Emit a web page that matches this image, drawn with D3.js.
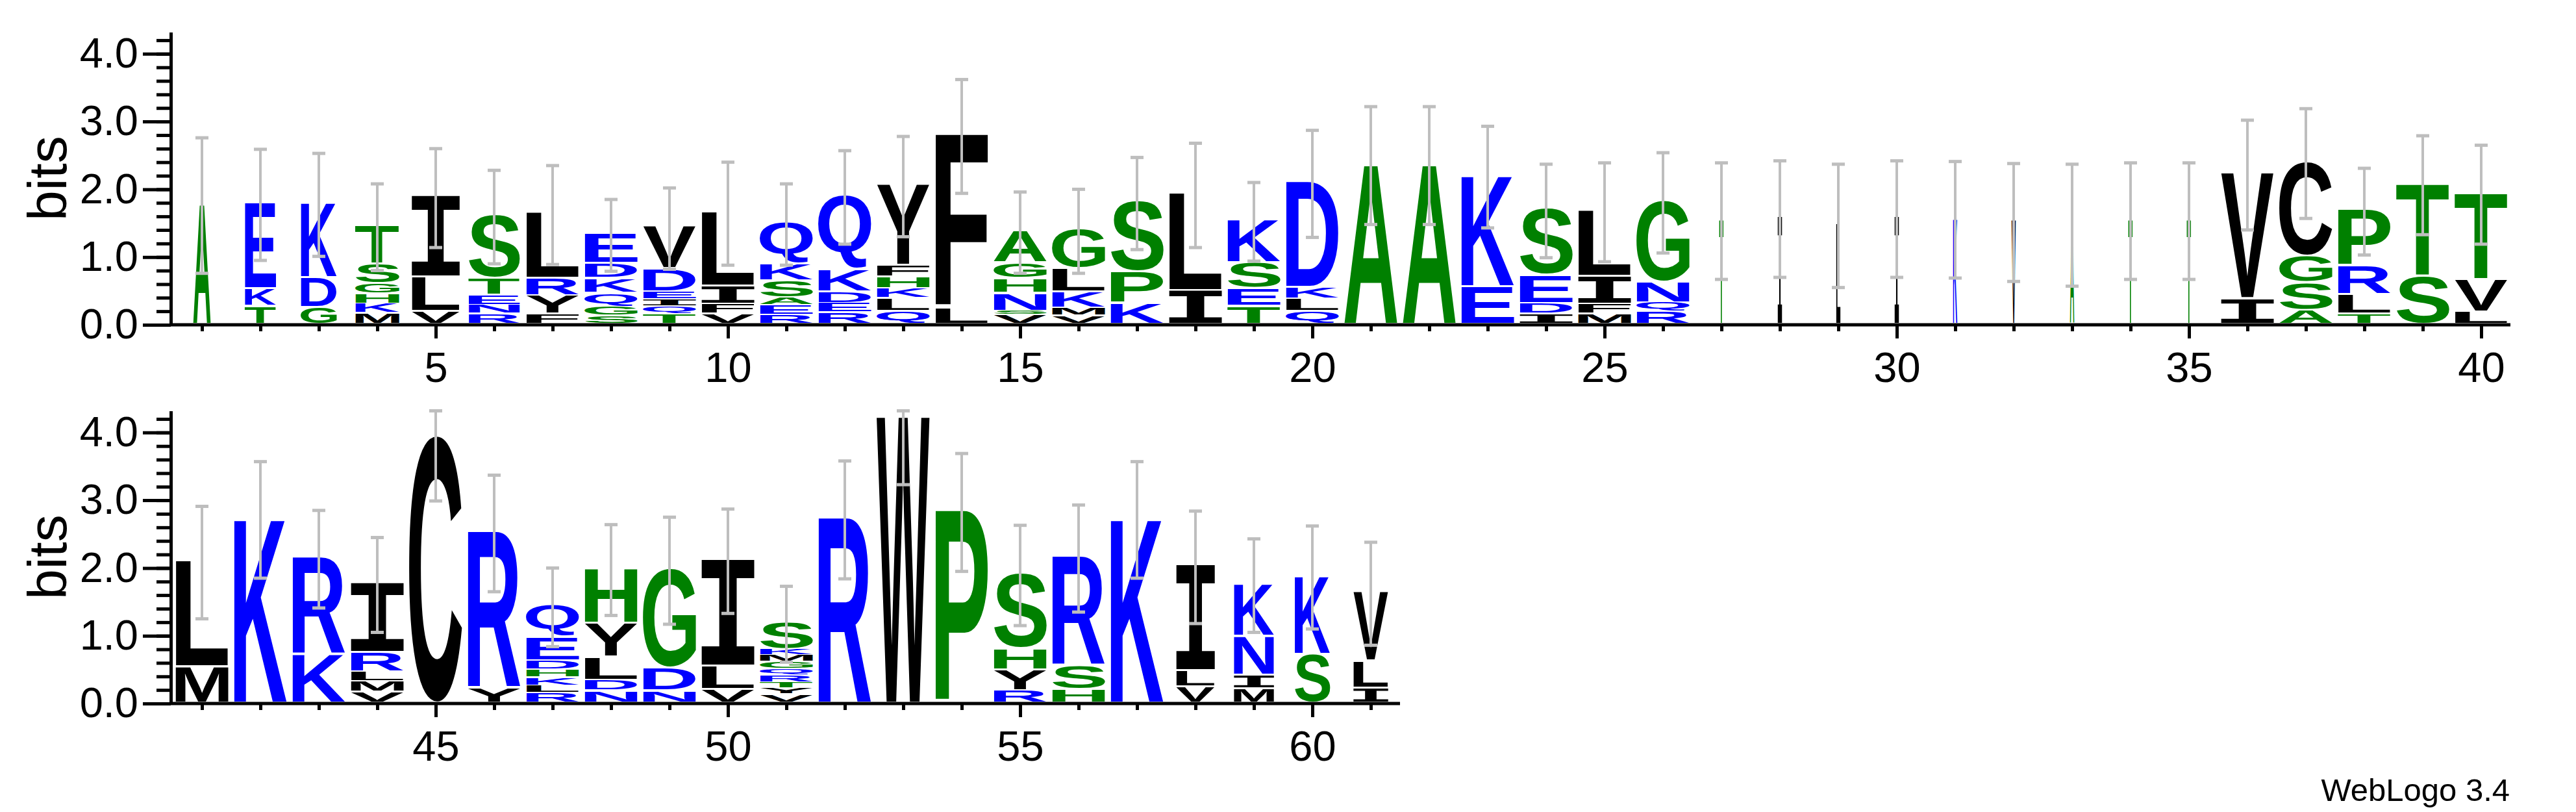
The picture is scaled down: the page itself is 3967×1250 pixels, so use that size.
<!DOCTYPE html>
<html>
<head>
<meta charset="utf-8">
<script src="https://cdn.jsdelivr.net/npm/d3@7"></script>
<style>
html,body{margin:0;padding:0;background:#fff;}
svg{display:block;}
</style>
</head>
<body>
<svg id="logo" width="3967" height="1250"></svg>
<script>
// ---- data (read off the logo) ----
// letters of each column, bottom -> top, [residue, bits]
var stacks = [
 [["A",1.76]],
 [["T",0.27],["K",0.26],["E",1.24]],
 [["G",0.25],["D",0.44],["K",1.08]],
 [["M",0.16],["K",0.14],["H",0.15],["G",0.15],["S",0.29],["T",0.55]],
 [["V",0.19],["L",0.51],["I",1.17]],
 [["R",0.15],["N",0.13],["E",0.15],["T",0.25],["S",0.91]],
 [["F",0.15],["Y",0.27],["R",0.26],["L",0.94]],
 [["S",0.12],["G",0.13],["Q",0.21],["K",0.22],["D",0.22],["E",0.42]],
 [["T",0.14],["Q",0.12],["I",0.1],["E",0.12],["D",0.34],["V",0.6]],
 [["V",0.15],["F",0.15],["I",0.27],["L",1.07]],
 [["R",0.13],["E",0.15],["A",0.11],["S",0.25],["K",0.25],["Q",0.59]],
 [["R",0.17],["E",0.14],["D",0.17],["K",0.33],["Q",1.07]],
 [["Q",0.19],["L",0.19],["K",0.15],["H",0.17],["F",0.17],["Y",1.17]],
 [["L",0.24],["F",2.54]],
 [["V",0.13],["S",0.06],["N",0.27],["H",0.22],["G",0.23],["A",0.45]],
 [["V",0.12],["M",0.12],["K",0.24],["L",0.35],["G",0.55]],
 [["K",0.31],["P",0.46],["S",1.02]],
 [["I",0.5],["L",1.41]],
 [["T",0.27],["E",0.26],["S",0.38],["K",0.61]],
 [["Q",0.19],["L",0.18],["K",0.18],["D",1.53]],
 [["A",2.35]],
 [["A",2.35]],
 [["E",0.56],["K",1.62]],
 [["I",0.15],["D",0.16],["E",0.41],["S",0.96]],
 [["M",0.15],["F",0.15],["I",0.41],["L",0.95]],
 [["R",0.18],["Q",0.14],["N",0.31],["G",1.17]],
 [["T",1.53]],
 [["I",1.56]],
 [["L",1.46]],
 [["I",1.56]],
 [["K",1.55]],
 [["V",1.51]],
 [["A",1.47]],
 [["T",1.53]],
 [["T",1.53]],
 [["I",0.38],["V",1.83]],
 [["A",0.21],["S",0.41],["G",0.39],["C",1.37]],
 [["T",0.15],["L",0.29],["R",0.42],["P",0.81]],
 [["S",0.71],["T",1.35]],
 [["L",0.18],["V",0.48],["T",1.26]],
 [["M",0.54],["L",1.54]],
 [["K",2.71]],
 [["K",0.73],["R",1.4]],
 [["V",0.16],["M",0.16],["L",0.14],["R",0.29],["I",1.0]],
 [["C",3.92]],
 [["Y",0.23],["R",2.28]],
 [["R",0.14],["L",0.11],["K",0.12],["H",0.12],["D",0.13],["E",0.35],["Q",0.45]],
 [["N",0.18],["D",0.16],["L",0.34],["Y",0.5],["H",0.79]],
 [["N",0.18],["D",0.34],["G",1.44]],
 [["V",0.2],["L",0.35],["I",1.55]],
 [["V",0.12],["Y",0.09],["T",0.09],["R",0.1],["Q",0.1],["G",0.1],["M",0.1],["K",0.09],["S",0.38]],
 [["R",2.71]],
 [["W",4.2]],
 [["P",2.82]],
 [["R",0.18],["Y",0.31],["H",0.32],["S",1.08]],
 [["H",0.2],["S",0.36],["R",1.58]],
 [["K",2.71]],
 [["V",0.24],["L",0.24],["I",1.53]],
 [["M",0.21],["I",0.2],["N",0.58],["K",0.75]],
 [["S",0.72],["K",1.14]],
 [["I",0.22],["L",0.4],["V",1.0]]
];

// fraction of full stack width (gappy columns are narrow)
var stackWidth = [
 0.33,0.59,0.68,0.83,0.91,0.97,1,1,1,1,
 1,1,1,1,1,1,1,1,1,1,
 1,1,1,1,1,1,0.08,0.08,0.08,0.08,
 0.08,0.08,0.08,0.08,0.08,1,1,1,1,1,
 1,1,1,1,1,1,1,1,1,1,
 1,1,1,1,1,1,1,0.73,0.76,0.67,
 0.66
];

// half length of the grey error bars (bits)
var errorBar = [
 1.0,0.82,0.76,0.64,0.73,0.69,0.73,0.53,0.6,0.76,
 0.6,0.69,0.74,0.84,0.6,0.62,0.68,0.77,0.58,0.79,
 0.87,0.87,0.75,0.69,0.73,0.74,0.86,0.86,0.91,0.86,
 0.86,0.87,0.9,0.86,0.86,0.81,0.81,0.64,0.73,0.73,
 0.83,0.86,0.72,0.7,0.93,0.86,0.58,0.67,0.79,0.77,
 0.56,0.87,0.97,0.87,0.74,0.79,0.86,0.83,0.69,0.76,
 0.76
];

var rowRanges = [[1, 40], [41, 61]];
var xTickLabels = [[5, 10, 15, 20, 25, 30, 35, 40], [45, 50, 55, 60]];
var yTickLabels = [0, 1, 2, 3, 4];

// hydrophobicity colouring
var hydrophilic = "RKDENQ", neutral = "SGHTAP";
function residueColor(ch) {
    if (hydrophilic.indexOf(ch) >= 0) return "#0000ff";
    if (neutral.indexOf(ch) >= 0) return "#008000";
    return "#000000";
}

// ---- layout ----
var svg = d3.select("#logo");
svg.append("rect").attr("width", 3967).attr("height", 1250).attr("fill", "#fff");

var colStep = 90, fullWidth = 82, bitPx = 104.3, yMax = 4.32;
var baselines = [500, 1083];
var axisX = 263, plotLeft = 266;
var labelFont = "'Liberation Sans', Arial, sans-serif";

//measure the ink box of each glyph so it can be stretched to its box
var canvas = document.createElement("canvas");
var ctx = canvas.getContext("2d");
var inkCache = {};
function glyphFamily(ch) {
    return ch == "I" ? "'DejaVu Sans Mono'" : "'Liberation Sans'";
}
function inkBox(ch) {
    if (inkCache[ch]) return inkCache[ch];
    ctx.font = "bold 100px " + glyphFamily(ch);
    ctx.textAlign = "left";
    ctx.textBaseline = "alphabetic";
    var m = ctx.measureText(ch);
    inkCache[ch] = {l: m.actualBoundingBoxLeft, r: m.actualBoundingBoxRight,
                    a: m.actualBoundingBoxAscent, d: m.actualBoundingBoxDescent};
    return inkCache[ch];
}

rowRanges.forEach(function(range, r) {
    var base = baselines[r];
    var x = d3.scaleLinear()
        .domain([range[0] - 0.5, range[1] + 0.5])
        .range([plotLeft, plotLeft + (range[1] - range[0] + 1) * colStep]);
    var y = d3.scaleLinear().domain([0, yMax]).range([base, base - yMax * bitPx]);

    var g = svg.append("g");

    // letters
    var cols = d3.range(range[0], range[1] + 1);
    cols.forEach(function(pos) {
        var w = stackWidth[pos - 1] * fullWidth;
        var x0 = x(pos) - w / 2;
        var sum = 0;
        var stack = stacks[pos - 1];
        stack.forEach(function(item, i) {
            var ch = item[0], h = item[1];
            var yBottom = y(sum) - 3, yTop = y(sum + h) - 3;
            sum += h;
            // thin white gap between stacked letters
            if (i < stack.length - 1) yTop += Math.min(3, (yBottom - yTop) * 0.15);
            var box = inkBox(ch);
            var sx = w / (box.l + box.r), sy = (yBottom - yTop) / (box.a + box.d);
            g.append("text")
                .text(ch)
                .attr("font-family", glyphFamily(ch))
                .attr("font-weight", "bold")
                .attr("font-size", 100)
                .attr("fill", residueColor(ch))
                .attr("transform", "translate(" + x0 + "," + yTop + ") scale(" + sx + "," + sy + ") translate(" + box.l + "," + box.a + ")");
        });
    });

    // error bars
    cols.forEach(function(pos) {
        var top = d3.sum(stacks[pos - 1], function(d) { return d[1]; });
        var e = errorBar[pos - 1];
        var lo = y(top - e), hi = y(Math.min(top + e, yMax));
        var cx = x(pos);
        g.append("line").attr("x1", cx).attr("x2", cx).attr("y1", lo).attr("y2", hi)
            .attr("stroke", "#bebebe").attr("stroke-width", 4);
        [lo, hi].forEach(function(yy) {
            g.append("line").attr("x1", cx - 10).attr("x2", cx + 10).attr("y1", yy).attr("y2", yy)
                .attr("stroke", "#bebebe").attr("stroke-width", 5);
        });
    });

    // y axis: minor ticks every 0.2, major every 1
    var yMinor = svg.append("g").attr("transform", "translate(" + axisX + ",0)")
        .call(d3.axisLeft(y).tickValues(d3.range(0, 4.3, 0.2)).tickSize(22).tickSizeOuter(0).tickFormat(""));
    var yMajor = svg.append("g").attr("transform", "translate(" + axisX + ",0)")
        .call(d3.axisLeft(y).tickValues(yTickLabels).tickSize(43).tickSizeOuter(0).tickPadding(7).tickFormat(d3.format(".1f")));
    yMajor.select(".domain").remove();
    yMinor.select(".domain").attr("stroke-width", 5);
    [yMinor, yMajor].forEach(function(a) {
        a.selectAll(".tick line").attr("stroke-width", 5);
        a.selectAll("text").attr("font-family", labelFont).attr("font-size", 65).attr("fill", "#000");
    });

    // x axis
    var xMinor = svg.append("g").attr("transform", "translate(0," + base + ")")
        .call(d3.axisBottom(x).tickValues(cols).tickSize(10).tickSizeOuter(0).tickFormat(""));
    xMinor.select(".domain").attr("stroke-width", 5)
        .attr("d", "M" + (axisX - 2) + ",0H" + x.range()[1]);
    var xMajor = svg.append("g").attr("transform", "translate(0," + base + ")")
        .call(d3.axisBottom(x).tickValues(xTickLabels[r]).tickSize(21).tickSizeOuter(0).tickPadding(21));
    xMajor.select(".domain").remove();
    [xMinor, xMajor].forEach(function(a) {
        a.selectAll(".tick line").attr("stroke-width", 5);
        a.selectAll("text").attr("font-family", labelFont).attr("font-size", 65).attr("fill", "#000");
    });

    // axis title
    svg.append("text")
        .attr("transform", "translate(102," + (base - yMax * bitPx / 2) + ") rotate(-90)")
        .attr("text-anchor", "middle")
        .attr("font-family", labelFont)
        .attr("font-size", 84)
        .text("bits");
});

svg.append("text")
    .attr("x", 3865).attr("y", 1233)
    .attr("text-anchor", "end")
    .attr("font-family", labelFont)
    .attr("font-size", 49)
    .text("WebLogo 3.4");
</script>
</body>
</html>
